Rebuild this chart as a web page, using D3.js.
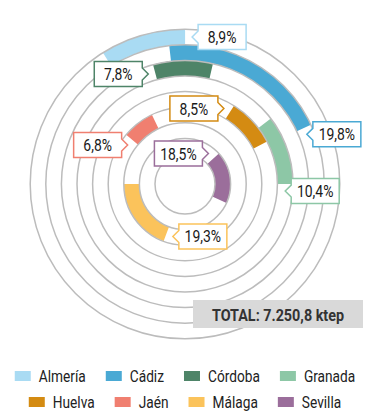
<!DOCTYPE html>
<html><head><meta charset="utf-8">
<script src="https://cdn.jsdelivr.net/npm/d3@7"></script>
<style>
html,body{margin:0;padding:0;background:#fff;}
svg{display:block;font-family:Roboto,"Liberation Sans",sans-serif;}
</style></head><body>
<svg id="c" width="370" height="415"></svg>
<script>
const provinces = ["Almería","Cádiz","Córdoba","Granada","Huelva","Jaén","Málaga","Sevilla"];
const shares = [8.9,19.8,7.8,10.4,8.5,6.8,19.3,18.5];
const shareLabels = ["8,9%","19,8%","7,8%","10,4%","8,5%","6,8%","19,3%","18,5%"];
const arcStartDeg = [-32,-6.5,-15,52.6,32,-50,200.5,48];
const labelAt = ["end","end","start","end","start","start","start","start"];
const labelSide = ["right","right","left","right","left","left","right","left"];
const colors = ["#a9dbf3","#4aa9d4","#4e8468","#8dc7a6","#d48b12","#f07f70","#fbc35b","#9b6e9b"];
const totalText = "TOTAL: 7.250,8 ktep";
const legendRows = [[0,1,2,3],[4,5,6,7]];

const svg = d3.select("#c");
const cx = 185, cy = 184;
const rOuter = 154.8, rInner = 30;
const nTracks = provinces.length;
const rScale = d3.scaleLinear().domain([0, nTracks]).range([rOuter, rInner]);
const shareAngle = d3.scaleLinear().domain([0, 100]).range([0, 2*Math.PI]);
const degAngle = d3.scaleLinear().domain([0, 360]).range([0, 2*Math.PI]);

function condense(sel, f){
  sel.each(function(){
    const w = this.getComputedTextLength();
    d3.select(this).attr("textLength", w*f).attr("lengthAdjust","spacingAndGlyphs");
  });
}

const g = svg.append("g").attr("transform", `translate(${cx},${cy})`);
const arcGen = d3.arc();

const data = provinces.map((p,i) => {
  const a0 = degAngle(arcStartDeg[i]);
  const a1 = a0 + shareAngle(shares[i]);
  return {p, i, a0, a1, r1: rScale(i), r0: rScale(i+1)};
});

g.selectAll("path.band").data(data).join("path")
  .attr("class","band")
  .attr("fill", d => colors[d.i])
  .attr("d", d => arcGen({innerRadius:d.r0, outerRadius:d.r1, startAngle:d.a0, endAngle:d.a1}));

g.selectAll("circle.ring").data(d3.range(nTracks+1)).join("circle")
  .attr("class","ring")
  .attr("r", k => rScale(k))
  .attr("fill","none").attr("stroke","#bcbcbc").attr("stroke-width",1.5);

// callout labels
const bw = 48, bh = 25, nd = 6, nh = 6, gap = 7;
data.forEach(d => {
  const th = labelAt[d.i] === "end" ? d.a1 : d.a0;
  const rm = (d.r0 + d.r1)/2;
  const px = cx + rm*Math.sin(th), py = cy - rm*Math.cos(th);
  const s = labelAt[d.i] === "end" ? 1 : -1;
  const tx = px + s*gap*Math.cos(th), ty = py + s*gap*Math.sin(th);
  const y0 = ty - bh/2, y1 = ty + bh/2;
  let path, xc;
  if (labelSide[d.i] === "right"){
    const x0 = tx + nd, x1 = x0 + bw;
    path = `M${x0},${y0}H${x1}V${y1}H${x0}V${ty+nh}L${tx},${ty}L${x0},${ty-nh}Z`;
    xc = (x0+x1)/2;
  } else {
    const x1 = tx - nd, x0 = x1 - bw;
    path = `M${x0},${y0}H${x1}V${ty-nh}L${tx},${ty}L${x1},${ty+nh}V${y1}H${x0}Z`;
    xc = (x0+x1)/2;
  }
  svg.append("path").attr("d", path).attr("fill","#fff")
    .attr("stroke", colors[d.i]).attr("stroke-width",1.5);
  svg.append("text").attr("x", xc).attr("y", ty + 6)
    .attr("text-anchor","middle").attr("font-size",17).attr("fill","#1a1a1a")
    .text(shareLabels[d.i]).call(condense, 0.82);
});

// total box
svg.append("rect").attr("x",193).attr("y",300).attr("width",170).attr("height",28).attr("fill","#d9d9d9");
svg.append("text").attr("x",278).attr("y",321).attr("text-anchor","middle")
  .attr("font-size",16.5).attr("font-weight","bold").attr("fill","#333")
  .text(totalText).call(condense, 0.87);

// legend
const sw = 16, sh = 10, tOff = 24, itemGap = 20;
const rowY = [376, 402];
legendRows.forEach((row, ri) => {
  const lg = svg.append("g");
  let x = 0;
  row.forEach(i => {
    const it = lg.append("g").attr("transform", `translate(${x},0)`);
    it.append("rect").attr("x",0).attr("y",-sh/2).attr("width",sw).attr("height",sh).attr("fill",colors[i]);
    const t = it.append("text").attr("x",tOff).attr("y",6).attr("font-size",16.5).attr("fill","#222")
      .text(provinces[i]).call(condense, 0.83);
    x += tOff + (+t.attr("textLength")) + itemGap;
  });
  const total = x - itemGap;
  lg.attr("transform", `translate(${185 - total/2},${rowY[ri]})`);
});
</script>
</body></html>
